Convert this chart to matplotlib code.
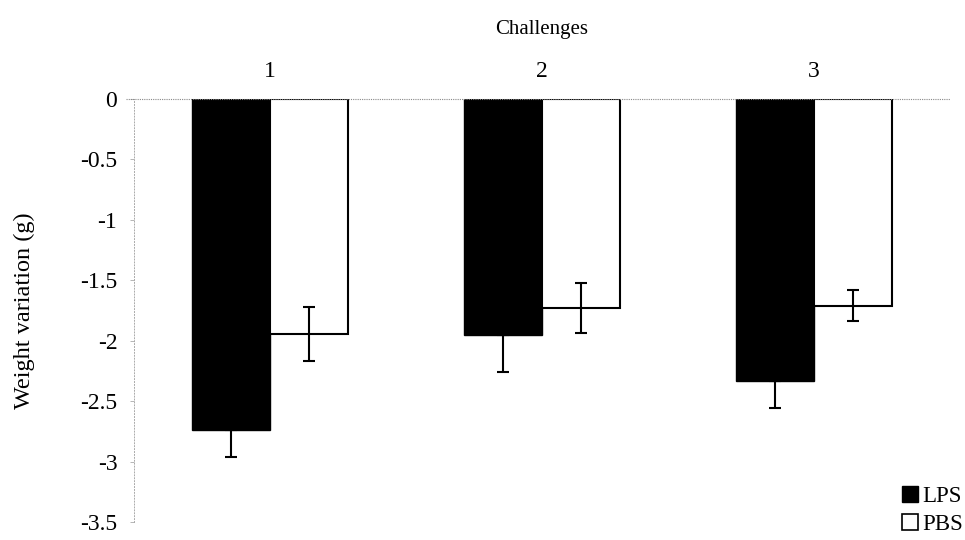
import matplotlib
matplotlib.use("Agg")
import matplotlib.pyplot as plt
import numpy as np
from matplotlib.patches import Patch

challenges = ["1", "2", "3"]
lps_values = [-2.74, -1.955, -2.33]
lps_err = [0.22, 0.30, 0.23]
pbs_values = [-1.945, -1.73, -1.71]
pbs_err = [0.22, 0.21, 0.13]
y_ticks = [0, -0.5, -1, -1.5, -2, -2.5, -3, -3.5]
y_tick_labels = ["0", "-0.5", "-1", "-1.5", "-2", "-2.5", "-3", "-3.5"]

plt.rcParams['font.family'] = ['Liberation Serif', 'DejaVu Serif']

fig = plt.figure(figsize=(9.65, 5.4), dpi=100)
ax = fig.add_axes([134/965, 1-522/540, (950-134)/965, (522-99)/540])

x = np.arange(len(challenges))
w = 0.287
ax.bar(x - w/2, lps_values, w, color='black', edgecolor='black', linewidth=1.0, zorder=3)
ax.bar(x + w/2, pbs_values, w, color='white', edgecolor='black', linewidth=1.5, zorder=3)
ax.errorbar(x - w/2, lps_values, yerr=[lps_err, [0]*3], fmt='none', ecolor='black',
            elinewidth=1.5, capsize=4, capthick=1.5, zorder=4)
ax.errorbar(x + w/2, pbs_values, yerr=[pbs_err, pbs_err], fmt='none', ecolor='black',
            elinewidth=1.5, capsize=4, capthick=1.5, zorder=4)

ax.set_xlim(-0.5, len(challenges) - 0.5)
ax.set_ylim(-3.5, 0)
ax.axhline(0, color='#888888', linestyle=(0, (1, 1)), linewidth=0.8, zorder=5,
           xmin=-0.01, clip_on=False)

ax.xaxis.tick_top()
ax.xaxis.set_label_position('top')
ax.set_xticks(x)
ax.set_xticklabels(challenges, fontsize=17)
ax.tick_params(axis='x', length=0, pad=12)
ax.set_xlabel("Challenges", fontsize=15, labelpad=20)

ax.set_yticks(y_ticks)
ax.set_yticklabels(y_tick_labels, fontsize=17)
ax.tick_params(axis='y', length=3, width=0.6, color='#aaaaaa', pad=9)
ax.set_ylabel("Weight variation (g)", fontsize=17.5)
ax.yaxis.set_label_coords(-(134-35)/816, 0.5)

for s in ['top', 'right', 'bottom']:
    ax.spines[s].set_visible(False)
ax.spines['left'].set_color('#aaaaaa')
ax.spines['left'].set_linewidth(0.7)
ax.spines['left'].set_linestyle((0, (1, 2)))

handles = [Patch(facecolor='black', edgecolor='black'),
           Patch(facecolor='white', edgecolor='black', linewidth=1.2)]
fig.legend(handles, ["LPS", "PBS"], loc='lower right', bbox_to_anchor=(1.015, -0.02),
           frameon=False, fontsize=16.5, handlelength=0.7, handleheight=0.7,
           handletextpad=0.2, labelspacing=0.3, borderaxespad=0.3)

fig.savefig("out.png", dpi=100)
